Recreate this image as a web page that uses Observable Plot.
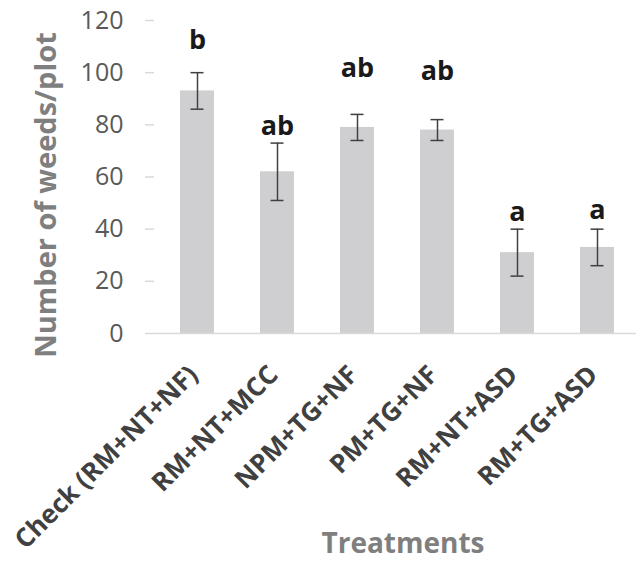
<!DOCTYPE html>
<html>
<head>
<meta charset="utf-8">
<script src="https://cdn.jsdelivr.net/npm/d3@7"></script>
<script src="https://cdn.jsdelivr.net/npm/@observablehq/plot@0.6"></script>
<style>
  html, body { margin: 0; padding: 0; background: #fff; }
  #chart svg { display: block; overflow: visible; }
</style>
</head>
<body>
<div id="chart"></div>
<script>
const treatments = ["Check (RM+NT+NF)", "RM+NT+MCC", "NPM+TG+NF", "PM+TG+NF", "RM+NT+ASD", "RM+TG+ASD"];
const means = [93, 62, 79, 78, 31, 33];
const errors = [7, 11, 5, 4, 9, 7];
const letters = ["b", "ab", "ab", "ab", "a", "a"];
const letterY = [109, 76, 98.5, 97, 43, 44];
const yTicks = [0, 20, 40, 60, 80, 100, 120];

const data = treatments.map((t, i) => ({
  t, mean: means[i], lo: means[i] - errors[i], hi: means[i] + errors[i],
  letter: letters[i], ly: letterY[i]
}));

const font = "'Open Sans', sans-serif";

const chart = Plot.plot({
  width: 636,
  height: 561,
  marginLeft: 154,
  marginRight: -3,
  marginTop: 20,
  marginBottom: 228,
  style: { fontFamily: font, background: "#fff", overflow: "visible" },
  x: { domain: treatments, paddingInner: 0.58, paddingOuter: 0.29, label: null },
  y: { domain: [0, 120], label: null },
  marks: [
    Plot.barY(data, { x: "t", y: "mean", fill: "#cfcfd1" }),
    Plot.ruleX(data, { x: "t", y1: "lo", y2: "hi", stroke: "#404040", strokeWidth: 1.5 }),
    Plot.tickY(data, { x: "t", y: "lo", stroke: "#404040", strokeWidth: 1.5, insetLeft: 10.5, insetRight: 10.5 }),
    Plot.tickY(data, { x: "t", y: "hi", stroke: "#404040", strokeWidth: 1.5, insetLeft: 10.5, insetRight: 10.5 }),
    Plot.text(data, { x: "t", y: "ly", text: "letter", lineAnchor: "bottom", fontSize: 27, fontWeight: "bold", fill: "#1a1a1a" }),
    Plot.axisY({ ticks: yTicks, tickSize: 9, tickPadding: 22, fontSize: 25, color: "#595959", stroke: "#d9d9d9", strokeWidth: 1.5, line: true, label: null }),
    Plot.ruleY([0], { stroke: "#d9d9d9", strokeWidth: 1.5 }),
    Plot.axisX({ tickSize: 0, tickRotate: -45, tickPadding: 10, dx: -4, dy: 27, fontSize: 26, fontWeight: "bold", color: "#404040", label: null }),
    Plot.text(["Number of weeds/plot"], { frameAnchor: "left", textAnchor: "middle", dx: -108, dy: 18, rotate: -90, text: d => d, fontSize: 29, fontWeight: "bold", fill: "#7f7f7f" }),
    Plot.text(["Treatments"], { frameAnchor: "bottom", dx: 6, dy: 219, text: d => d, fontSize: 28, fontWeight: "bold", fill: "#7f7f7f" })
  ]
});
document.getElementById("chart").append(chart);
</script>
</body>
</html>
